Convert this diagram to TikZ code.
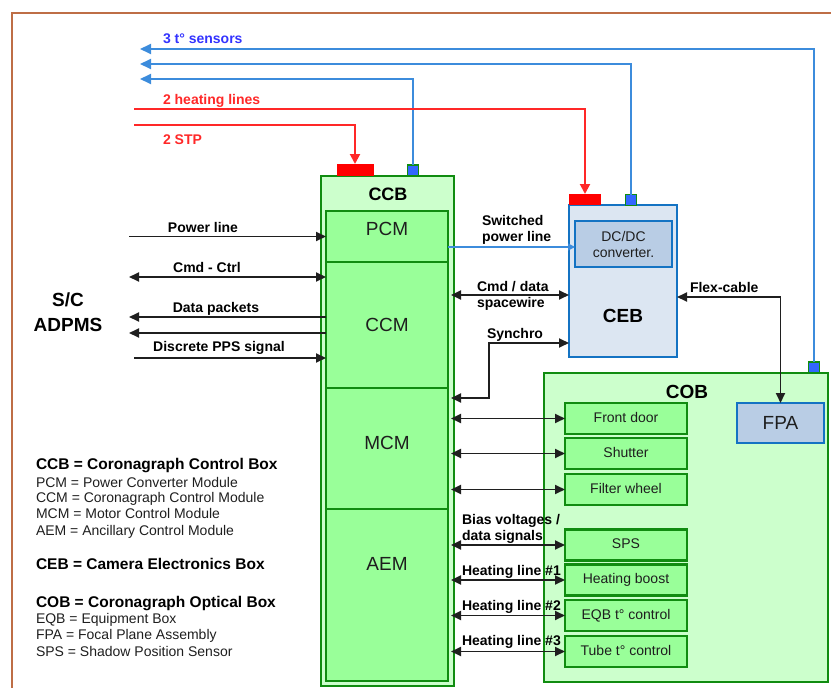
\documentclass[tikz,border=0pt]{standalone}
\usepackage{fontspec}
\setmainfont{Liberation Sans}
\usetikzlibrary{arrows.meta}
\definecolor{sensblue}{RGB}{60,140,220}
\definecolor{senstext}{RGB}{51,51,255}
\definecolor{heatred}{RGB}{255,40,40}
\definecolor{gborder}{RGB}{16,140,16}
\definecolor{lgreen}{RGB}{204,255,204}
\definecolor{mgreen}{RGB}{153,255,153}
\definecolor{cebfill}{RGB}{220,230,242}
\definecolor{cebborder}{RGB}{20,115,195}
\definecolor{dcfill}{RGB}{185,205,229}
\definecolor{sqblue}{RGB}{51,102,255}
\definecolor{framec}{RGB}{190,110,70}
\definecolor{txt}{RGB}{30,30,30}
\begin{document}
\begin{tikzpicture}[x=1pt,y=-1pt,
  >={Triangle[length=10pt,width=9pt]},
  every node/.style={inner sep=0pt,outer sep=0pt,text=txt},
  ccbbox/.style={draw=gborder,line width=2.2pt,fill=lgreen},
  modbox/.style={draw=gborder,line width=2pt,fill=mgreen,minimum width=122},
  cobbox/.style={draw=gborder,line width=2.2pt,fill=lgreen},
  subbox/.style={draw=gborder,line width=2.4pt,fill=mgreen,minimum width=122,minimum height=31,
     font=\fontsize{14}{16}\selectfont,text height=10pt,text depth=3pt},
  cebbox/.style={draw=cebborder,line width=2pt,fill=cebfill},
  dcbox/.style={draw=cebborder,line width=2pt,fill=dcfill},
  fpabox/.style={draw=cebborder,line width=2.6pt,fill=dcfill},
  padbox/.style={fill=red},
  sqbox/.style={draw=gborder,line width=1.5pt,fill=sqblue,minimum width=11,minimum height=11},
  bigt/.style={font=\fontsize{19}{22}\selectfont},
  bigb/.style={font=\fontsize{19}{25}\selectfont\bfseries},
  lbl/.style={font=\fontsize{14}{16}\selectfont\bfseries},
  legb/.style={font=\fontsize{15.5}{18}\selectfont\bfseries,text=black,anchor=base west},
  legr/.style={font=\fontsize{14}{16}\selectfont,anchor=base west},
  sig/.style={draw=black!88,line width=1.9pt},
  sens/.style={draw=sensblue,line width=2pt,-{Triangle[length=11pt,width=10pt]}},
  heat/.style={draw=heatred,line width=2pt,-{Triangle[length=10pt,width=10pt]}},
  pwr/.style={draw=sensblue,line width=1.4pt,-{Triangle[length=7pt,width=7pt]}}
]
\useasboundingbox (0,0) rectangle (831,688);
% frame
\draw[framec,line width=1.5pt] (12,688) -- (12,13) -- (831,13);

% COB
\node[cobbox,minimum width=284,minimum height=309] (cob) at (686,527.5) {};
\node[bigb,text=black] (cobt) at (687,392) {COB};
\node[fpabox,minimum width=87,minimum height=40,bigt] (fpa) at (780.5,423) {FPA};
\node[subbox] (fd) at (626,418.5) {Front door};
\node[subbox] (sh) at (626,453.5) {Shutter};
\node[subbox] (fw) at (626,489.5) {Filter wheel};
\node[subbox] (sps) at (626,545) {SPS};
\node[subbox] (hb) at (626,580) {Heating boost};
\node[subbox] (eqb) at (626,615.5) {EQB t° control};
\node[subbox] (tube) at (626,651.5) {Tube t° control};
\node[sqbox] (cobsq) at (814,367.5) {};

% CCB
\node[ccbbox,minimum width=133,minimum height=510] (ccb) at (387.5,431) {};
\node[modbox,minimum height=51] (pcm) at (387,236.5) {};
\node[modbox,minimum height=126] (ccm) at (387,325) {};
\node[modbox,minimum height=121] (mcm) at (387,448.5) {};
\node[modbox,minimum height=172] (aem) at (387,595) {};
\node[font=\fontsize{18}{20}\selectfont\bfseries,text=black] (ccbt) at (388,194) {CCB};
\node[bigt] (pcmt) at (387,229) {PCM};
\node[bigt] (ccmt) at (387,325) {CCM};
\node[bigt] (mcmt) at (387,443) {MCM};
\node[bigt] (aemt) at (387,564) {AEM};
\node[padbox,minimum width=37,minimum height=12] (ccbpad) at (355,170) {};
\node[sqbox] (ccbsq) at (413,170.5) {};

% CEB
\node[cebbox,minimum width=108,minimum height=152] (ceb) at (623,281) {};
\node[dcbox,minimum width=97,minimum height=46,align=center,font=\fontsize{14}{16}\selectfont] (dcdc) at (623.5,244) {DC/DC\\converter.};
\node[bigb,text=black] (cebt) at (623,316) {CEB};
\node[padbox,minimum width=32,minimum height=11] (cebpad) at (585,199.5) {};
\node[sqbox] (cebsq) at (631,200) {};

% sensor lines
\coordinate (s1) at (140,49);
\coordinate (s2) at (140,64);
\coordinate (s3) at (140,79);
\draw[sens] (cobsq.north) |- (s1);
\draw[sens] (cebsq.north) |- (s2);
\draw[sens] (ccbsq.north) |- (s3);
% heating lines
\coordinate (h1) at (134,109);
\coordinate (h2) at (134,125);
\draw[heat] (h1) -| (cebpad.north);
\draw[heat] (h2) -| (ccbpad.north);

% left side signals
\coordinate (pw) at (129,236.5);
\coordinate (cc) at (129,277);
\coordinate (dp1) at (129,317);
\coordinate (dp2) at (129,333);
\coordinate (pps) at (134,358);
\draw[sig,->] (pw) -- (pw -| pcm.west);
\draw[sig,<->] (cc) -- (cc -| ccm.west);
\draw[sig,->] (dp1 -| ccm.west) -- (dp1);
\draw[sig,->] (dp2 -| ccm.west) -- (dp2);
\draw[sig,->] (pps) -- (pps -| ccm.west);

% right side signals
\coordinate (cr) at (451,0);
\coordinate (sw) at (500,247);
\coordinate (cd) at (500,295);
\coordinate (sy1) at (489,343);
\coordinate (sy2) at (489,398);
\coordinate (fx) at (780,297);
\draw[pwr] (sw -| pcm.east) -- (sw -| dcdc.west);
\draw[sig,<->] (cd -| cr) -- (cd -| ceb.west);
\draw[sig,<->] (sy1 -| ceb.west) -- (sy1) -- (sy2) -- (sy2 -| cr);
\draw[sig,<->] (fx -| ceb.east) -| (fpa.north);
\foreach \n in {fd,sh,fw,sps,hb,eqb,tube}
  \draw[sig,<->] (\n.west -| cr) -- (\n.west);

% labels
\node[lbl,anchor=base,text=black] (lpw) at (203,232) {Power line};
\node[lbl,anchor=base,text=black] (lcc) at (207,272) {Cmd - Ctrl};
\node[lbl,anchor=base,text=black] (ldp) at (216,312) {Data packets};
\node[lbl,anchor=base,text=black] (lpps) at (219,351) {Discrete PPS signal};
\node[bigb,align=center,text=black] (sc) at (68,312.5) {S/C\\ADPMS};
\node[lbl,anchor=west,align=left,text=black] (lsw) at (482,229.5) {Switched\\power line};
\node[lbl,anchor=west,align=left,text=black] (lcd) at (477,296) {Cmd / data\\spacewire};
\node[lbl,anchor=base west,text=black] (lsy) at (487,338) {Synchro};
\node[lbl,anchor=base west,text=black] (lfx) at (690,292) {Flex-cable};
\node[lbl,anchor=west,align=left,text=black] (lbias) at (462,528.5) {Bias voltages /\\data signals};
\node[lbl,anchor=base west,text=black] (lh1) at (462,575) {Heating line \#1};
\node[lbl,anchor=base west,text=black] (lh2) at (462,610) {Heating line \#2};
\node[lbl,anchor=base west,text=black] (lh3) at (462,645) {Heating line \#3};
\node[lbl,anchor=base west,text=senstext] (lsens) at (163,43) {3 t° sensors};
\node[lbl,anchor=base west,text=heatred] (lheat) at (163,104) {2 heating lines};
\node[lbl,anchor=base west,text=heatred] (lstp) at (163,144) {2 STP};

% legend
\node[legb] (g1) at (36,469.5) {CCB = Coronagraph Control Box};
\node[legr] (g2) at (36,487) {PCM = Power Converter Module};
\node[legr] (g3) at (36,502.5) {CCM = Coronagraph Control Module};
\node[legr] (g4) at (36,518.5) {MCM = Motor Control Module};
\node[legr] (g5) at (36,535) {AEM = Ancillary Control Module};
\node[legb] (g6) at (36,569.5) {CEB = Camera Electronics Box};
\node[legb] (g7) at (36,607.5) {COB = Coronagraph Optical Box};
\node[legr] (g8) at (36,623) {EQB = Equipment Box};
\node[legr] (g9) at (36,639) {FPA = Focal Plane Assembly};
\node[legr] (g10) at (36,656) {SPS = Shadow Position Sensor};
\end{tikzpicture}
\end{document}
